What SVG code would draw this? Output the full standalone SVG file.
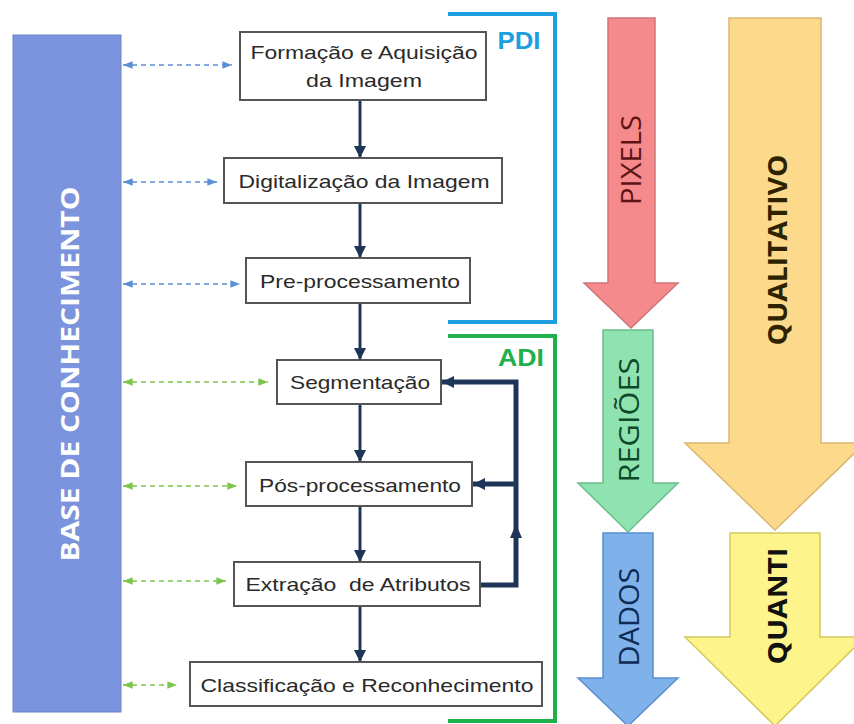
<svg xmlns="http://www.w3.org/2000/svg" width="854" height="724" viewBox="0 0 854 724">
<defs>
<style>
.box{fill:#fff;stroke:#555;stroke-width:2}
.bt{font-family:"Liberation Sans",Arial,sans-serif;font-size:19px;fill:#2a2a2a;text-anchor:middle}
.vt{font-family:"Open Sans","Noto Sans",sans-serif;text-anchor:middle}
.conn{stroke:#1f3558;stroke-width:3;fill:none}
.fb{stroke:#1f3558;stroke-width:5;fill:none}
.db{stroke:#5a8fd4;stroke-width:1.6;stroke-dasharray:5 4;fill:none}
.dg{stroke:#7cc44c;stroke-width:1.6;stroke-dasharray:5 4;fill:none}
</style>
<marker id="ad" viewBox="0 0 10 10" refX="10" refY="5" markerWidth="4" markerHeight="4" orient="auto"><path d="M0,0 L10,5 L0,10 z" fill="#1f3558"/></marker>
<marker id="af" viewBox="0 0 10 10" refX="10" refY="5" markerWidth="2.4" markerHeight="2.4" orient="auto"><path d="M0,0 L10,5 L0,10 z" fill="#1f3558"/></marker>
<marker id="mb" viewBox="0 0 10 10" refX="10" refY="5" markerWidth="6" markerHeight="6" orient="auto-start-reverse"><path d="M0,1 L10,5 L0,9 z" fill="#5a8fd4"/></marker>
<marker id="mg" viewBox="0 0 10 10" refX="10" refY="5" markerWidth="6" markerHeight="6" orient="auto-start-reverse"><path d="M0,1 L10,5 L0,9 z" fill="#7cc44c"/></marker>
</defs>
<rect width="854" height="724" fill="#fff"/>

<g id="base">
<rect x="13" y="35" width="108" height="677" fill="#7b94dd" stroke="#6b84cc" stroke-width="1"/>
<text class="vt" transform="translate(79,374) rotate(-90)" font-size="25" font-weight="bold" fill="#fff" textLength="375" lengthAdjust="spacingAndGlyphs">BASE DE CONHECIMENTO</text>
</g>

<g id="pdi">
<path d="M448,14 H555 V322 H448" fill="none" stroke="#1d9ee0" stroke-width="4"/>
<text x="519" y="49" font-family="Liberation Sans,Arial,sans-serif" font-size="23" font-weight="bold" fill="#1d9ee0" text-anchor="middle" textLength="43" lengthAdjust="spacingAndGlyphs">PDI</text>
</g>
<g id="adi">
<path d="M448,336 H555 V721 H448" fill="none" stroke="#1eb04a" stroke-width="4"/>
<text x="521" y="366" font-family="Liberation Sans,Arial,sans-serif" font-size="23" font-weight="bold" fill="#1eb04a" text-anchor="middle" textLength="46" lengthAdjust="spacingAndGlyphs">ADI</text>
</g>

<g id="connectors">
<line class="conn" x1="360" y1="100" x2="360" y2="158" marker-end="url(#ad)"/>
<line class="conn" x1="360" y1="203" x2="360" y2="258" marker-end="url(#ad)"/>
<line class="conn" x1="360" y1="303" x2="360" y2="360" marker-end="url(#ad)"/>
<line class="conn" x1="360" y1="404" x2="360" y2="462" marker-end="url(#ad)"/>
<line class="conn" x1="360" y1="506" x2="360" y2="562" marker-end="url(#ad)"/>
<line class="conn" x1="360" y1="606" x2="360" y2="662" marker-end="url(#ad)"/>
<path class="fb" d="M480,585 H516 V382 H442" marker-end="url(#af)"/>
<path class="fb" d="M516,484 H473" marker-end="url(#af)"/>
<polygon points="516,524 510,538 522,538" fill="#1f3558"/>
<line class="db" x1="123" y1="65" x2="232" y2="65" marker-start="url(#mb)" marker-end="url(#mb)"/>
<line class="db" x1="123" y1="182" x2="217" y2="182" marker-start="url(#mb)" marker-end="url(#mb)"/>
<line class="db" x1="123" y1="284" x2="240" y2="284" marker-start="url(#mb)" marker-end="url(#mb)"/>
<line class="dg" x1="123" y1="382" x2="268" y2="382" marker-start="url(#mg)" marker-end="url(#mg)"/>
<line class="dg" x1="123" y1="486" x2="237" y2="486" marker-start="url(#mg)" marker-end="url(#mg)"/>
<line class="dg" x1="123" y1="581" x2="226" y2="581" marker-start="url(#mg)" marker-end="url(#mg)"/>
<line class="dg" x1="123" y1="685" x2="177" y2="685" marker-start="url(#mg)" marker-end="url(#mg)"/>
</g>

<g id="n1"><rect class="box" x="240" y="32" width="246" height="68"/>
<text class="bt" x="364" y="59" textLength="227" lengthAdjust="spacingAndGlyphs">Formação e Aquisição</text>
<text class="bt" x="364" y="87" textLength="116" lengthAdjust="spacingAndGlyphs">da Imagem</text></g>
<g id="n2"><rect class="box" x="224" y="158" width="278" height="45"/>
<text class="bt" x="364" y="188" textLength="251" lengthAdjust="spacingAndGlyphs">Digitalização da Imagem</text></g>
<g id="n3"><rect class="box" x="246" y="258" width="224" height="45"/>
<text class="bt" x="360" y="288" textLength="200" lengthAdjust="spacingAndGlyphs">Pre-processamento</text></g>
<g id="n4"><rect class="box" x="277" y="360" width="164" height="44"/>
<text class="bt" x="360" y="389" textLength="140" lengthAdjust="spacingAndGlyphs">Segmentação</text></g>
<g id="n5"><rect class="box" x="246" y="462" width="226" height="44"/>
<text class="bt" x="360" y="492" textLength="202" lengthAdjust="spacingAndGlyphs">Pós-processamento</text></g>
<g id="n6"><rect class="box" x="234" y="562" width="246" height="44"/>
<text class="bt" x="358" y="591" textLength="225" lengthAdjust="spacingAndGlyphs" xml:space="preserve">Extração  de Atributos</text></g>
<g id="n7"><rect class="box" x="190" y="662" width="352" height="44"/>
<text class="bt" x="367" y="692" textLength="333" lengthAdjust="spacingAndGlyphs">Classificação e Reconhecimento</text></g>

<g id="pixels">
<polygon points="608,18 655,18 655,283 678,283 631,328 584,283 608,283" fill="#f58a8c" stroke="#cf7476" stroke-width="1.5"/>
<text class="vt" transform="translate(641,160) rotate(-90)" font-size="27" fill="#5e1414" textLength="90" lengthAdjust="spacingAndGlyphs">PIXELS</text>
</g>
<g id="qualitativo">
<polygon points="729,18 821,18 821,443 865,443 775,530 685,443 729,443" fill="#fdd98c" stroke="#d9b76e" stroke-width="1.5"/>
<text class="vt" transform="translate(787,250) rotate(-90)" font-size="27" font-weight="bold" fill="#2e2300" textLength="191" lengthAdjust="spacingAndGlyphs">QUALITATIVO</text>
</g>
<g id="regioes">
<polygon points="603,330 653,330 653,483 678,483 628,532 578,483 603,483" fill="#8ee3b0" stroke="#6cbf8c" stroke-width="1.5"/>
<text class="vt" transform="translate(639,420) rotate(-90)" font-size="27" fill="#0f4a28" textLength="125" lengthAdjust="spacingAndGlyphs">REGIÕES</text>
</g>
<g id="dados">
<polygon points="603,533 653,533 653,678 678,678 628,726 578,678 603,678" fill="#7fb2ea" stroke="#5a8fcf" stroke-width="1.5"/>
<text class="vt" transform="translate(639,617) rotate(-90)" font-size="27" fill="#0f2a55" textLength="99" lengthAdjust="spacingAndGlyphs">DADOS</text>
</g>
<g id="quanti">
<polygon points="730,533 820,533 820,637 865,637 775,726 685,637 730,637" fill="#fdf58c" stroke="#d5c95e" stroke-width="1.5"/>
<text class="vt" transform="translate(787,606) rotate(-90)" font-size="27" font-weight="bold" fill="#111" textLength="117" lengthAdjust="spacingAndGlyphs">QUANTI</text>
</g>
</svg>
